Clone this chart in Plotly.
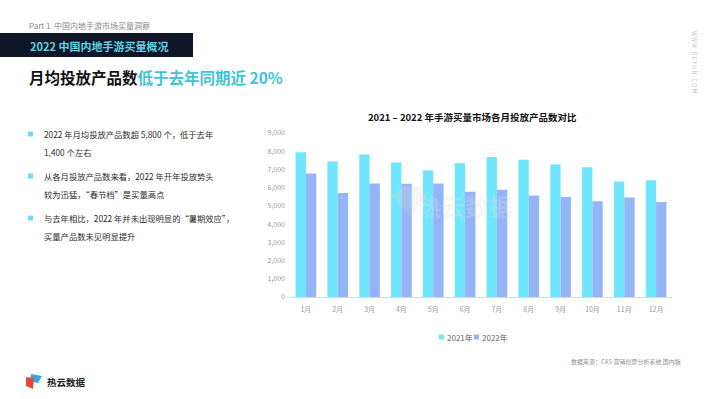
import plotly.graph_objects as go

months = ["1月", "2月", "3月", "4月", "5月", "6月", "7月", "8月", "9月", "10月", "11月", "12月"]
series_names = ["2021年", "2022年"]
values_2021 = [7950, 7430, 7820, 7380, 6960, 7340, 7680, 7530, 7270, 7120, 6340, 6410]
values_2022 = [6780, 5710, 6230, 6210, 6230, 5770, 5880, 5570, 5490, 5260, 5460, 5220]
y_ticks = [0, 1000, 2000, 3000, 4000, 5000, 6000, 7000, 8000, 9000]
y_ticklabels = ["0", "1,000", "2,000", "3,000", "4,000", "5,000", "6,000", "7,000", "8,000", "9,000"]

W, H = 710, 399
L, R, T, B = 290, 38, 133, 102
PW, PH = W - L - R, H - T - B

def px(x):
    return (x - L) / PW

def py(y):
    return (H - B - y) / PH

FONT = "Noto Sans CJK SC"
C21 = "#6fe6fb"
C22 = "#93b5f7"

fig = go.Figure()
fig.add_trace(go.Bar(x=months, y=values_2021, name=series_names[0], marker=dict(color=C21, line_width=0)))
fig.add_trace(go.Bar(x=months, y=values_2022, name=series_names[1], marker=dict(color=C22, line_width=0)))

shapes = []
annotations = []

def rect(x0, y0, x1, y1, color):
    shapes.append(dict(type="rect", xref="paper", yref="paper", x0=px(x0), x1=px(x1), y0=py(y1), y1=py(y0),
                       fillcolor=color, line_width=0))

def text(x, y, s, size, color, bold=False, anchor="left", yanchor="middle", angle=0, family=FONT):
    annotations.append(dict(xref="paper", yref="paper", x=px(x), y=py(y), text=(f"<b>{s}</b>" if bold else s),
                            showarrow=False, xanchor=anchor, yanchor=yanchor, textangle=angle,
                            font=dict(family=family, size=size, color=color)))

# dark banner
rect(0, 33, 193, 57, "#0e1627")

text(27, 25, "Part 1  中国内地手游市场买量洞察", 8, "#8a8a8a")
text(28, 45.5, "2022 中国内地手游买量概况", 11, "#5fd3e8", bold=True)
text(27, 77, "月均投放产品数<span style='color:#3fc4d6'>低于去年同期近 20%</span>", 15.5, "#111111", bold=True)

# bullets
bullets = [
    (134, "2022 年月均投放产品数超 5,800 个，低于去年", "1,400 个左右"),
    (176, "从各月投放产品数来看，2022 年开年投放势头", "较为迅猛，“春节档”是买量高点"),
    (218, "与去年相比，2022 年并未出现明显的“暑期效应”，", "买量产品数未见明显提升"),
]
for yb, l1, l2 in bullets:
    rect(28, yb - 2.5, 33, yb + 2.5, "#6fe0f2")
    text(42, yb, l1, 8.3, "#2b2b2b")
    text(42, yb + 18, l2, 8.3, "#2b2b2b")

# chart title
text(472, 117, "2021 – 2022 年手游买量市场各月投放产品数对比", 9.5, "#111111", bold=True, anchor="center")

# manual legend
rect(439, 334.5, 444, 339.5, C21)
text(445, 337, series_names[0], 8, "#666666")
rect(474, 334.5, 479, 339.5, C22)
text(480, 337, series_names[1], 8, "#666666")

# source
text(683, 361, "数据来源：CAS 营销创意分析系统 国内版", 6, "#8f8f8f", anchor="right")

# vertical site text
text(694, 62, "W W W . R E Y U N . C O M", 5.5, "#c0c0c0", anchor="center", angle=90)

# watermark
text(465, 205, "热云数据", 24, "rgba(225,225,225,0.28)", bold=True, anchor="center")
shapes.append(dict(type="path", xref="paper", yref="paper",
                   path=f"M {px(392)} {py(196)} L {px(404)} {py(186)} L {px(420)} {py(186)} L {px(428)} {py(196)} L {px(410)} {py(216)} Z",
                   fillcolor="rgba(215,215,215,0.25)", line_width=0))

# logo icon
shapes.append(dict(type="path", xref="paper", yref="paper",
                   path=f"M {px(31)} {py(374)} L {px(42)} {py(376)} L {px(38)} {py(383)} L {px(30)} {py(381)} Z",
                   fillcolor="#3aa6e0", line_width=0))
shapes.append(dict(type="path", xref="paper", yref="paper",
                   path=f"M {px(26)} {py(377)} L {px(34)} {py(378)} L {px(33)} {py(389)} L {px(26)} {py(386)} Z",
                   fillcolor="#e5483a", line_width=0))
text(45, 381.5, "热云数据", 9.5, "#222222", bold=True)

fig.update_layout(
    width=W, height=H,
    margin=dict(l=L, r=R, t=T, b=B, pad=0),
    paper_bgcolor="white", plot_bgcolor="white",
    barmode="group", bargap=0.35, bargroupgap=0,
    font=dict(family=FONT, size=7, color="#999999"),
    showlegend=False,
    shapes=shapes,
    annotations=annotations,
    xaxis=dict(showline=True, linecolor="#d9d9d9", linewidth=1, showgrid=False, ticks="",
               tickfont=dict(size=7, color="#999999"), ticklabelstandoff=6, fixedrange=True),
    yaxis=dict(range=[0, 9000], tickvals=y_ticks, ticktext=y_ticklabels, showgrid=False, zeroline=False,
               showline=False, ticks="", tickfont=dict(size=7, color="#999999"), ticklabelstandoff=4),
)

fig.write_html("out.html", config={"displayModeBar": False},
               post_script="document.body.style.margin='0';document.body.style.overflow='hidden';")
